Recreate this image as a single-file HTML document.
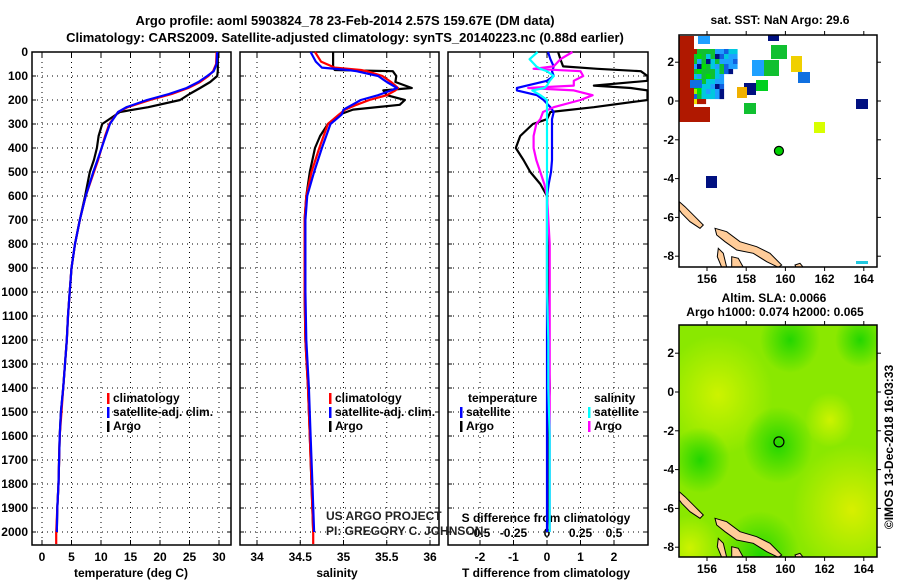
<!DOCTYPE html>
<html><head><meta charset="utf-8"><style>
body{margin:0;background:#fff}
svg{display:block;font-family:"Liberation Sans",sans-serif}
.t{font-weight:bold;font-size:12px;fill:#000}
</style></head><body>
<svg id="s" width="900" height="580" viewBox="0 0 900 580">
<text x="345" y="25" text-anchor="middle" class="t" style="font-size:13px">Argo profile: aoml 5903824_78 23-Feb-2014 2.57S 159.67E (DM data)</text>
<text x="345" y="42" text-anchor="middle" class="t" style="font-size:13px">Climatology: CARS2009. Satellite-adjusted climatology: synTS_20140223.nc (0.88d earlier)</text>
<g id="g"></g>
</svg>
<script>
// depth grid for profiles (m)
const depthT = [0,50,80,100,125,150,175,200,230,250,300,350,400,450,500,600,700,800,900,1000,1100,1200,1400,1500,1600,1700,1800,1900,2000];
const tempArgo = [29.8,29.8,29.8,29.7,28.5,26.8,25,23.4,18,13.2,10.2,9.6,9.3,8.8,8.1,7.3,6.4,5.6,5.0,4.7,4.4,4.2,3.6,3.2,3.0,2.9,2.8,2.6,2.5];
const tempClim = [29.6,29.5,29,28.2,26.8,24.8,22,18.3,14.5,12.9,11.4,10.7,10.1,9.5,8.8,7.4,6.4,5.6,5.0,4.7,4.4,4.2,3.6,3.3,3.0,2.9,2.8,2.6,2.4];
const tempSat = [29.7,29.6,29.1,28,26.5,24.5,21.5,17.8,14.3,12.9,11.5,10.8,10.1,9.4,8.7,7.4,6.4,5.6,5.0,4.7,4.4,4.2,3.6,3.2,3.0,2.9,2.8,2.6,2.5];
const depthS = [0,40,65,75,80,100,125,150,160,180,200,220,240,260,300,350,400,500,600,700,1000,1200,1400,1600,1800,2000];
const salArgo = [34.88,34.88,34.88,34.9,35.57,35.61,35.6,35.79,35.46,35.5,35.71,35.65,35.11,34.96,34.82,34.73,34.67,34.61,34.57,34.55,34.55,34.56,34.59,34.61,34.63,34.65];
const salClim = [34.67,34.74,34.9,35.2,35.27,35.45,35.55,35.63,35.6,35.5,35.3,35.15,35.02,34.95,34.82,34.77,34.72,34.63,34.57,34.55,34.55,34.56,34.59,34.61,34.63,34.65];
const salSat = [34.62,34.68,34.75,35.05,35.15,35.4,35.5,35.62,35.55,35.4,35.2,35.1,35.0,34.98,34.85,34.8,34.75,34.66,34.58,34.56,34.56,34.57,34.6,34.62,34.64,34.66];
const depthD = [0,30,60,70,80,100,120,140,150,160,180,200,230,250,280,300,350,400,450,500,550,600,800,1000,1200,1400,1600,1800,2000];
const dTArgo = [0.33,0.4,0.48,1.5,2.8,3,3,1.4,2.5,3,3,3,1.4,0.1,0,-0.42,-0.8,-0.93,-0.7,-0.5,-0.2,0,0.05,0.02,0.05,0.08,0.03,0.05,0];
const dTSat = [0.03,0.1,0.2,0.18,0.15,0.2,0,-0.6,-0.9,-0.9,-0.3,-0.1,0.1,0.2,0.15,0.15,0.15,0.15,0.15,0.12,0.05,0,0,0,0,0,0,0,0];
const dSArgo = [0.19,0.1,0.05,-0.1,0.25,0.27,0.2,0.2,-0.14,0.2,0.34,0.25,0.05,-0.03,-0.05,-0.08,-0.1,-0.1,-0.08,-0.05,-0.02,0,0.02,0.02,0.02,0.02,0.02,0.02,0.02];
const dSSat = [-0.07,-0.13,-0.08,-0.05,0,0.05,0.02,0,-0.02,-0.11,-0.05,0,0,0,0,0,0,0,0,0,0,0,0,0,0.01,0.01,0.02,0.02,0.02];
const depthTicks = [0,100,200,300,400,500,600,700,800,900,1000,1100,1200,1300,1400,1500,1600,1700,1800,1900,2000];
const tTicks = [0,5,10,15,20,25,30];
const sTicks = [34,34.5,35,35.5,36];
const dTTicks = [-2,-1,0,1,2];
const dSTicks = [-0.5,-0.25,0,0.25,0.5];
const lonTicks = [156,158,160,162,164];
const latTicks = [2,0,-2,-4,-6,-8];

const NS='http://www.w3.org/2000/svg', G=document.getElementById('g');
function el(tag,attrs,parent){const e=document.createElementNS(NS,tag);for(const k in attrs)e.setAttribute(k,attrs[k]);(parent||G).appendChild(e);return e;}
function txt(x,y,s,anchor,cls,parent){const e=el('text',{x:x,y:y,'text-anchor':anchor||'middle','class':cls||'t'},parent);e.textContent=s;return e;}
const yD = d => 52 + d*0.24;
const TOP=52, BOT=545;
const xT = v => 42 + v*5.9;
const xS = v => 257 + (v-34)*86.5;
const xDT = v => 547 + v*33.5;
const xDS = v => 547 + v*134;

function panel(x0,x1,name){
  const r=el('rect',{x:x0,y:TOP,width:x1-x0,height:BOT-TOP,fill:'none',stroke:'#000','stroke-width':1.5});
  
  
  depthTicks.forEach(d=>{
    const l=el('line',{x1:x0,x2:x1,y1:yD(d),y2:yD(d),stroke:'#000','stroke-dasharray':'1,4'});
    
    
  });
}
function vgrid(xs,f){
  xs.forEach(v=>{const x=f(v);
    const l=el('line',{x1:x,x2:x,y1:TOP,y2:BOT,stroke:'#000','stroke-dasharray':'1,4'});
    
    
    el('line',{x1:x,x2:x,y1:BOT,y2:BOT-5,stroke:'#000'});
    el('line',{x1:x,x2:x,y1:TOP,y2:TOP+5,stroke:'#000'});
  });
}
function line(ds,vs,f,color,name,clipX){
  const pts=ds.map((d,i)=>{let x=f(vs[i]);if(clipX)x=Math.max(clipX[0],Math.min(clipX[1],x));return x.toFixed(1)+','+yD(d).toFixed(1);}).join(' ');
  const p=el('polyline',{points:pts,fill:'none',stroke:color,'stroke-width':2.2,'stroke-linejoin':'round'});
  
  
}
panel(32,231,'temperature-panel');
panel(240,439,'salinity-panel');
panel(448,648,'difference-panel');
vgrid(tTicks,xT); vgrid(sTicks,xS); vgrid(dTTicks,xDT);
depthTicks.forEach(d=>{
  const t=txt(28,yD(d)+4,String(d),'end');
  
  
  [[32,36],[227,231],[240,244],[435,439],[448,452],[644,648]].forEach(a=>el('line',{x1:a[0],x2:a[1],y1:yD(d),y2:yD(d),stroke:'#000'}));
});
tTicks.forEach(v=>{const t=txt(xT(v),561,String(v));});
sTicks.forEach(v=>{const t=txt(xS(v),561,String(v));});
dTTicks.forEach(v=>{const t=txt(xDT(v),561,String(v));});
dSTicks.forEach(v=>{const t=txt(xDS(v),537,String(v));el('line',{x1:xDS(v),x2:xDS(v),y1:BOT,y2:BOT-5,stroke:'#000'});});
let a;
a=txt(131,577,'temperature (deg C)');
a=txt(337,577,'salinity');
a=txt(546,577,'T difference from climatology');
a=txt(546,522,'S difference from climatology');
line(depthT,tempArgo,xT,'#000','temp-argo-line');
line(depthT.concat([2050]),tempClim.concat([2.4]),xT,'#f00','temp-climatology-line');
line(depthT,tempSat,xT,'#00f','temp-satellite-line');
line(depthS,salArgo,xS,'#000','sal-argo-line');
line(depthS.concat([2050]),salClim.concat([34.65]),xS,'#f00','sal-climatology-line');
line(depthS,salSat,xS,'#00f','sal-satellite-line');
line(depthD,dTArgo,xDT,'#000','t-diff-argo-line',[448,648]);
line(depthD,dTSat,xDT,'#00f','t-diff-satellite-line',[448,648]);
line(depthD,dSArgo,xDS,'#f0f','s-diff-argo-line',[448,648]);
line(depthD,dSSat,xDS,'#0ff','s-diff-satellite-line',[448,648]);
function leg(x,y,color,label){
  const m=el('rect',{x:x,y:y-9,width:2.5,height:11,fill:color});
  
  
  const t=txt(x+6,y,label,'start');
  
  
}
leg(107,402,'#f00','climatology');leg(107,416,'#00f','satellite-adj. clim.');leg(107,430,'#000','Argo');
leg(329,402,'#f00','climatology');leg(329,416,'#00f','satellite-adj. clim.');leg(329,430,'#000','Argo');
a=txt(468,402,'temperature','start');
leg(460,416,'#00f','satellite');leg(460,430,'#000','Argo');
a=txt(594,402,'salinity','start');
leg(588,416,'#0ff','satellite');leg(588,430,'#f0f','Argo');
a=txt(326,520,'US ARGO PROJECT','start','');a.setAttribute('style','font-size:12px;fill:#222');
a=txt(326,535,'PI: GREGORY C. JOHNSON','start','');a.setAttribute('style','font-size:12px;fill:#222');

// ---- maps ----
const lonX = v => 707 + (v-156)*19.6;
const latY1 = v => 101 - v*19.4;
const latY2 = v => 392 - v*19.4;
const mapL=679,mapR=877;
const defs=el('defs',{});
function rg(id,c){const g=el('radialGradient',{id:id},defs);el('stop',{offset:'0','stop-color':c,'stop-opacity':0.9},g);el('stop',{offset:'1','stop-color':c,'stop-opacity':0},g);}
rg('ye','#d4f400');rg('gr','#18d400');rg('ye2','#e0f000');
const cp1=el('clipPath',{id:'c1'},defs);el('rect',{x:mapL,y:35,width:mapR-mapL,height:232},cp1);
const cp2=el('clipPath',{id:'c2'},defs);el('rect',{x:mapL,y:325,width:mapR-mapL,height:232},cp2);
const m2=el('g',{'clip-path':'url(#c2)'});
el('rect',{x:mapL,y:325,width:mapR-mapL,height:232,fill:'#8ae800'},m2);
[['ye',718,395,55],['ye2',852,510,60],['gr',778,445,35],['gr',760,555,40],['gr',790,340,30],['ye',690,548,30],['ye',830,420,25],['gr',860,340,25],['gr',700,460,30]].forEach(b=>el('ellipse',{cx:b[1],cy:b[2],rx:b[3],ry:b[3]*1.1,fill:'url(#'+b[0]+')'},m2));
const m1=el('g',{'clip-path':'url(#c1)'});
el('rect',{x:mapL,y:35,width:mapR-mapL,height:232,fill:'#fff'},m1);
const pal={r:'#b01800',o:'#f0a000',y:'#f0e000',g:'#10c030',G:'#00e000',c:'#00c8e0',b:'#1ea0ff',B:'#1060e0',n:'#001080',l:'#a0f000'};
const pat=['rrrrggggbbBcc','rorgGgcgnBcbb','ryrgbgncgbbbB','yrrbnGgcbgBbb','ggogGgggcgBn','rygcbgGgcb','rrogGgccbb','rgyGGccbnB','rrrlGcbcbn','GrBBgcccbn','ggyyrr'];
pat.forEach((row,j)=>{for(let i=0;i<row.length;i++){el('rect',{x:679+i*4.5,y:49+j*5,width:4.6,height:5.1,fill:pal[row[i]]},m1);}});
[[679,36,15,86,'#b01800'],[679,107,31,15,'#b01800'],[698,36,12,8,'#1ea0ff'],[768,35,11,6,'#001080'],[771,45,16,14,'#10c030'],[752,60,12,16,'#1ea0ff'],[764,60,15,16,'#10c030'],[791,56,11,16,'#f0d000'],[798,72,12,11,'#1070e0'],[744,83,12,12,'#001080'],[756,80,12,11,'#00d020'],[737,87,10,11,'#f0b000'],[744,103,12,11,'#10c030'],[856,99,12,10,'#001080'],[814,122,11,11,'#d8ff00'],[706,176,11,12,'#001080'],[856,261,12,3,'#20c8e0'],[690,80,12,8,'#1070e0']].forEach(b=>{
  const r=el('rect',{x:b[0],y:b[1],width:b[2],height:b[3],fill:b[4]},m1);
  
  
});
const islands=[[[58,545],[75,560],[105,590],[130,615],[120,625],[90,605],[65,580],[58,570]],
 [[165,625],[200,635],[240,665],[290,680],[330,700],[365,735],[355,742],[320,725],[280,700],[230,690],[195,665],[170,645]],
 [[175,685],[190,700],[200,742],[185,742],[172,710]],[[215,710],[235,715],[250,742],[215,742]],[[405,735],[420,730],[430,742],[408,742]]];
[[m1,0],[m2,290]].forEach(([par,dy])=>{
  islands.forEach(isl=>{
    const p=el('polygon',{points:isl.map(q=>(660+q[0]/3).toFixed(1)+','+(20+dy+q[1]/3).toFixed(1)).join(' '),fill:'#ffcc99',stroke:'#000','stroke-width':1},par);
    
    
  });
});
a=el('circle',{cx:lonX(159.67),cy:latY1(-2.57),r:4.5,fill:'#00d000',stroke:'#000','stroke-width':1.2});
a=el('circle',{cx:lonX(159.67),cy:latY2(-2.57),r:5,fill:'none',stroke:'#000','stroke-width':1.2});
[[35,267,latY1],[325,557,latY2]].forEach(([t,b,fy])=>{
  el('rect',{x:mapL,y:t,width:mapR-mapL,height:b-t,fill:'none',stroke:'#000','stroke-width':1.5});
  lonTicks.forEach(v=>{const x=lonX(v);el('line',{x1:x,x2:x,y1:b,y2:b+4,stroke:'#000'});el('line',{x1:x,x2:x,y1:t,y2:t-4,stroke:'#000'});
    const l=txt(x,b+16,String(v));});
  latTicks.forEach(v=>{const y=fy(v);el('line',{x1:mapL,x2:mapL-4,y1:y,y2:y,stroke:'#000'});el('line',{x1:mapR,x2:mapR+4,y1:y,y2:y,stroke:'#000'});
    const l=txt(674,y+4,String(v),'end');});
});
a=txt(780,24,'sat. SST: NaN Argo: 29.6');
a=txt(774,302,'Altim. SLA: 0.0066');
a=txt(775,316,'Argo h1000: 0.074 h2000: 0.065');
a=txt(0,0,'©IMOS 13-Dec-2018 16:03:33','middle','');a.setAttribute('style','font-size:12px');a.setAttribute('transform','translate(893,447) rotate(-90)');
</script>
</body></html>
